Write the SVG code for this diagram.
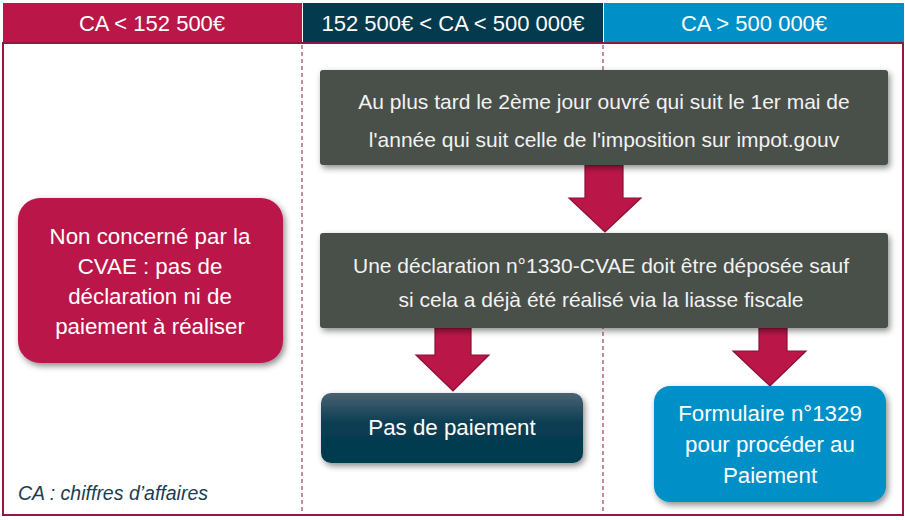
<svg xmlns="http://www.w3.org/2000/svg" width="905" height="520" viewBox="0 0 905 520">
<style>
  text { font-family: "Liberation Sans", Arial, sans-serif; fill: #ffffff; text-anchor: middle; }
  .hdr { font-size: 22px; }
  .gray { font-size: 21px; fill: #f2f2f2; }
  .big { font-size: 22.3px; }
  .note { font-size: 19.5px; font-style: italic; fill: #1b3d52; text-anchor: start; }
  .dash { stroke: #8c1a40; stroke-width: 1; stroke-dasharray: 4 3; fill: none; }
  .arrow { fill: #bb1648; stroke: #8a1038; stroke-width: 1.2; }
</style>
<defs>
  <filter id="sh" x="-10%" y="-20%" width="120%" height="150%">
    <feDropShadow dx="2" dy="3" stdDeviation="3" flood-color="#000" flood-opacity="0.45"/>
  </filter>
  <linearGradient id="tealGrad" x1="0" y1="0" x2="0" y2="1">
    <stop offset="0" stop-color="#4a6272"/>
    <stop offset="0.45" stop-color="#083c52"/>
    <stop offset="1" stop-color="#033a4e"/>
  </linearGradient>
</defs>
<rect x="0" y="0" width="905" height="520" fill="#ffffff"/>

<g id="header">
  <rect x="3" y="3" width="299" height="40" fill="#bb1648"/>
  <rect x="303" y="3" width="300" height="40" fill="#033a4e"/>
  <rect x="604" y="3" width="300" height="40" fill="#0090c8"/>
  <text class="hdr" x="152" y="31">CA &lt; 152 500€</text>
  <text class="hdr" x="453" y="31">152 500€ &lt; CA &lt; 500 000€</text>
  <text class="hdr" x="754" y="31">CA &gt; 500 000€</text>
</g>

<g id="frame">
  <rect x="3" y="43" width="900" height="472" fill="none" stroke="#8c1a40" stroke-width="2"/>
  <line class="dash" x1="302" y1="45" x2="302" y2="514"/>
  <line class="dash" x1="603" y1="45" x2="603" y2="514"/>
</g>

<g id="connectors">
  <polygon class="arrow" points="585,165 623,165 623,198 641,198 605,232 569,198 585,198"/>
  <polygon class="arrow" points="435,328 471,328 471,355 489,355 453,391 416,355 435,355"/>
  <polygon class="arrow" points="759,328 787,328 787,351 806,351 770,386 733,351 759,351"/>
</g>

<g id="node-top">
  <rect x="320" y="70" width="568" height="95" rx="3" fill="#4a4f4a" filter="url(#sh)"/>
  <text class="gray" x="604" y="109">Au plus tard le 2ème jour ouvré qui suit le 1er mai de</text>
  <text class="gray" x="604" y="147">l'année qui suit celle de l'imposition sur impot.gouv</text>
</g>

<g id="node-declaration">
  <rect x="320" y="233" width="568" height="95" rx="3" fill="#4a4f4a" filter="url(#sh)"/>
  <text class="gray" x="601" y="273">Une déclaration n°1330-CVAE doit être déposée sauf</text>
  <text class="gray" x="601" y="307">si cela a déjà été réalisé via la liasse fiscale</text>
</g>

<g id="node-non-concerne">
  <rect x="18" y="198" width="265" height="165" rx="22" fill="#bb1648" filter="url(#sh)"/>
  <text class="big" x="150" y="244">Non concerné par la</text>
  <text class="big" x="150" y="274">CVAE : pas de</text>
  <text class="big" x="150" y="304">déclaration ni de</text>
  <text class="big" x="150" y="334">paiement à réaliser</text>
</g>

<g id="node-pas-de-paiement">
  <rect x="321" y="393" width="262" height="70" rx="10" fill="url(#tealGrad)" filter="url(#sh)"/>
  <text class="big" x="452" y="435">Pas de paiement</text>
</g>

<g id="node-formulaire">
  <rect x="654" y="386" width="232" height="116" rx="16" fill="#0090c8" filter="url(#sh)"/>
  <text class="big" x="770" y="421">Formulaire n°1329</text>
  <text class="big" x="770" y="452">pour procéder au</text>
  <text class="big" x="770" y="483">Paiement</text>
</g>

<g id="note">
  <text class="note" x="18" y="500">CA : chiffres d’affaires</text>
</g>
</svg>
